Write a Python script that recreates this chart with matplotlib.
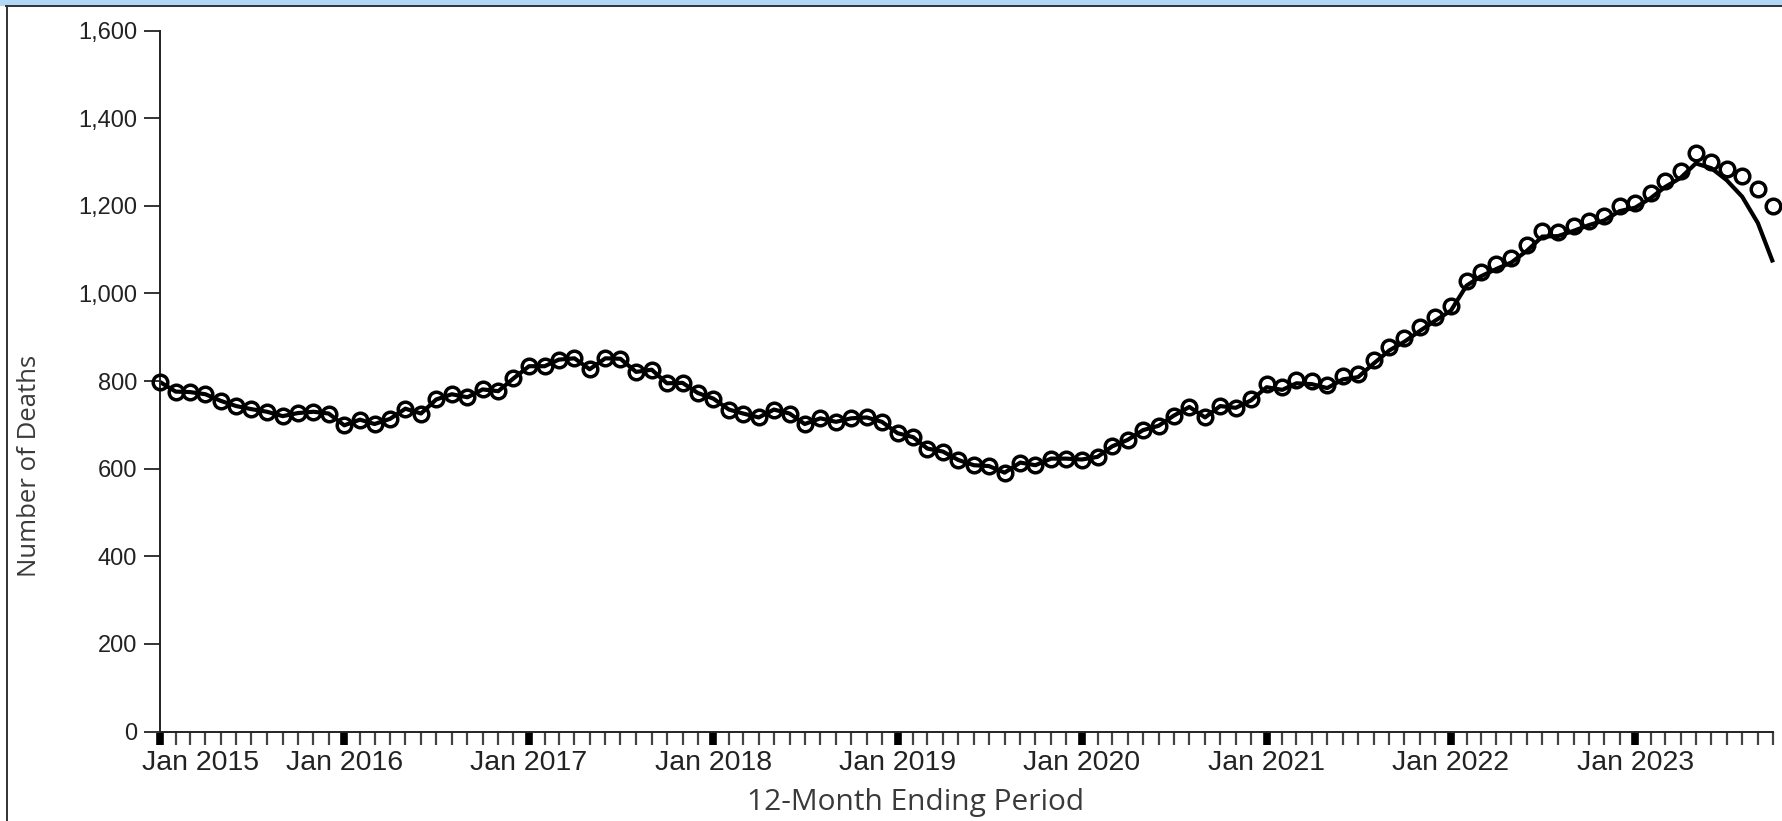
import matplotlib
matplotlib.use('Agg')
import matplotlib.pyplot as plt
import matplotlib.dates as mdates
from matplotlib.patches import Rectangle
from matplotlib.lines import Line2D
from matplotlib.transforms import ScaledTranslation
from matplotlib.ticker import FuncFormatter
import pandas as pd

# 12-month ending periods, Jan 2015 .. Oct 2023
months = pd.date_range('2015-01-01', '2023-10-01', freq='MS')

# reported values (open circles)
reported = [798, 776, 775, 770, 755, 743, 736, 730, 720, 727, 730, 726,
            699, 712, 702, 714, 737, 726, 758, 770, 763, 781, 777, 806,
            834, 834, 849, 852, 827, 852, 851, 821, 826, 795, 796, 773,
            760, 735, 726, 717, 735, 726, 702, 715, 707, 715, 717, 707,
            681, 672, 646, 639, 620, 608, 606, 591, 614, 608, 623, 623,
            621, 627, 651, 666, 688, 698, 721, 741, 717, 743, 739, 760,
            793, 787, 802, 800, 791, 811, 816, 848, 878, 898, 924, 947,
            971, 1029, 1050, 1067, 1082, 1110, 1142, 1141, 1153, 1166, 1178, 1200,
            1207, 1230, 1257, 1280, 1320, 1300, 1284, 1268, 1238, 1200]

# predicted values (solid line)
predicted = [798, 776, 775, 770, 755, 743, 736, 730, 720, 727, 730, 726,
             699, 712, 702, 714, 737, 726, 758, 770, 763, 781, 777, 806,
             834, 834, 849, 852, 827, 852, 851, 821, 826, 795, 796, 773,
             760, 735, 726, 717, 735, 726, 702, 715, 707, 715, 717, 707,
             681, 672, 646, 639, 620, 608, 606, 591, 614, 608, 623, 623,
             621, 627, 651, 666, 688, 698, 721, 741, 717, 743, 739, 756,
             786, 780, 795, 793, 784, 804, 809, 840, 870, 890, 915, 938,
             961, 1018, 1039, 1056, 1071, 1098, 1130, 1131, 1143, 1156, 1167, 1188,
             1196, 1218, 1243, 1264, 1297, 1286, 1259, 1221, 1161, 1071]

yticks = [0, 200, 400, 600, 800, 1000, 1200, 1400, 1600]

W, H = 1783, 821
fig = plt.figure(figsize=(W / 100, H / 100), dpi=100)

# frame decoration
fig.add_artist(Rectangle((0, 1 - 6 / H), 1, 6 / H, transform=fig.transFigure,
                         facecolor='#b2d8f7', edgecolor='none'))
fig.add_artist(Line2D([6.5 / W, 1], [1 - 6.5 / H] * 2, transform=fig.transFigure,
                      color='#333333', lw=1.4))
fig.add_artist(Line2D([7.5 / W] * 2, [0, 1 - 6.5 / H], transform=fig.transFigure,
                      color='#333333', lw=1.4))

ax = fig.add_axes([160 / W, 89.5 / H, (1773 - 160) / W, 700.8 / H])

ax.plot(months, predicted, color='black', lw=3.0, clip_on=False, zorder=2,
        solid_capstyle='butt')
ax.plot(months, reported, 'o', mfc='none', mec='black', ms=10.5, mew=2.5,
        clip_on=False, zorder=3)

ax.set_xlim(months[0], months[-1])
ax.set_ylim(0, 1600)

for s in ['top', 'right']:
    ax.spines[s].set_visible(False)
for s in ['left', 'bottom']:
    ax.spines[s].set_linewidth(1.4)
    ax.spines[s].set_color('#222222')

ax.set_yticks(yticks)
ax.yaxis.set_major_formatter(FuncFormatter(lambda v, p: '{:,.0f}'.format(v)))
ax.tick_params(axis='y', length=11.5, width=1.4, color='#333333', pad=5,
               labelsize=17, labelcolor='#222222')

ax.xaxis.set_major_locator(mdates.MonthLocator(bymonth=1))
ax.xaxis.set_minor_locator(mdates.MonthLocator())
ax.xaxis.set_major_formatter(mdates.DateFormatter('%b %Y'))
ax.tick_params(axis='x', which='major', length=9, width=5.5, color='black',
               pad=4, labelsize=20.5, labelcolor='#222222')
ax.tick_params(axis='x', which='minor', length=9, width=1.6, color='#444444')

for lbl in ax.get_xticklabels() + ax.get_yticklabels():
    lbl.set_fontfamily('Liberation Sans')

# first label is pushed right so it stays inside the frame
first = ax.get_xticklabels()[0]
first.set_horizontalalignment('left')
first.set_transform(first.get_transform() + ScaledTranslation(-18 / 100, 0, fig.dpi_scale_trans))

fig.text(30 / W, (H - 466) / H, 'Number of Deaths', rotation=90, ha='center', va='center',
         fontsize=18.5, family='Open Sans', color='#3a3a3a')
fig.text(916 / W, 11 / H, '12-Month Ending Period', ha='center', va='baseline',
         fontsize=21.5, family='Open Sans', color='#3a3a3a')

fig.savefig('out.png', dpi=100)
